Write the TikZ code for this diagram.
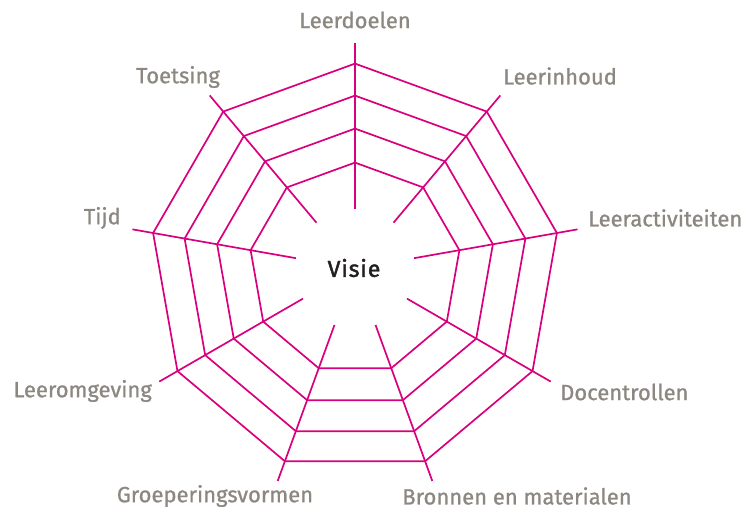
\documentclass[tikz,border=0pt]{standalone}
\usepackage{fontspec}
\setmainfont{Fira Sans}
\newfontfamily\lblfont{Fira Sans}[FakeBold=0.9]
\newfontfamily\visiefont{Fira Sans}[FakeBold=1.8, LetterSpace=4]
\usetikzlibrary{calc}
\definecolor{webpink}{RGB}{217,0,126}
\definecolor{labelgrey}{RGB}{140,135,128}
\definecolor{visiegrey}{RGB}{35,31,32}
\tikzset{
  web/.style={draw=webpink, line width=1.7pt, line join=miter},
  lbl/.style={text=labelgrey, inner sep=0pt, font=\lblfont\fontsize{22}{25}\selectfont},
}
\begin{document}
\begin{tikzpicture}[x=1pt,y=-1pt]
\useasboundingbox (0,0) rectangle (744,510);
% Spinnenweb: middelpunt, spaken en ringen
\coordinate (c) at (355,268.6);
\foreach \k in {0,...,8}{
  \coordinate (in\k) at ([shift={(90-40*\k:60pt)}]c);
  \coordinate (out\k) at ([shift={(90-40*\k:226pt)}]c);
  \draw[web] (in\k) -- (out\k);
}
\foreach \r [count=\j] in {106,140,173,205}{
  \foreach \k in {0,...,8}
    \coordinate (r\j-\k) at ([shift={(90-40*\k:\r pt)}]c);
  \draw[web] (r\j-0) -- (r\j-1) -- (r\j-2) -- (r\j-3) -- (r\j-4)
    -- (r\j-5) -- (r\j-6) -- (r\j-7) -- (r\j-8) -- cycle;
}
% Labels
\node[text=visiegrey, inner sep=0pt, font=\visiefont\fontsize{23}{26}\selectfont] (visie) at (354,268) {Visie};
\node[lbl] (leerdoelen) at (355,20) {Leerdoelen};
\node[lbl, anchor=west] (leerinhoud) at (503,76) {Leerinhoud};
\node[lbl, anchor=west] (leeractiviteiten) at (588,218) {Leeractiviteiten};
\node[lbl, anchor=west] (docentrollen) at (560,392) {Docentrollen};
\node[lbl] (bronnen) at (517,496) {Bronnen en materialen};
\node[lbl] (groeperingsvormen) at (215,496) {Groeperingsvormen};
\node[lbl, anchor=east] (leeromgeving) at (152,391) {Leeromgeving};
\node[lbl, anchor=east] (tijd) at (121,218) {Tijd};
\node[lbl] (toetsing) at (178,77) {Toetsing};
\end{tikzpicture}
\end{document}
